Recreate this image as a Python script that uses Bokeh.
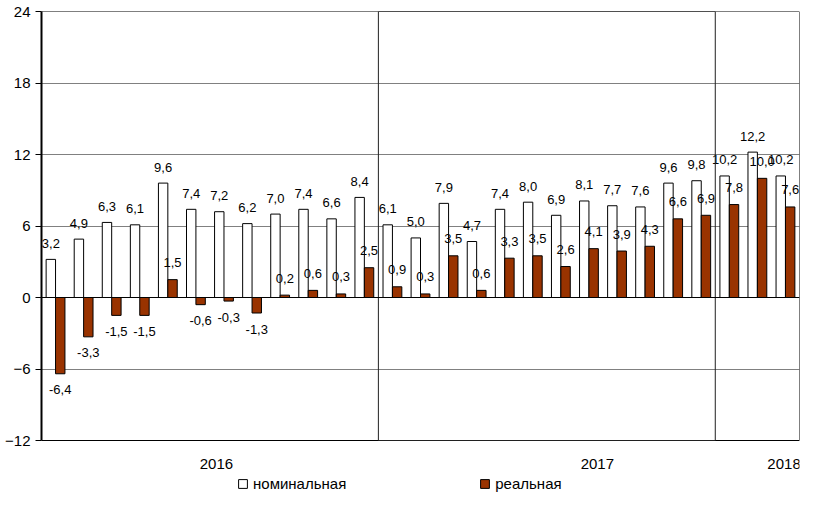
from bokeh.plotting import figure
from bokeh.models import (ColumnDataSource, FixedTicker, Legend, LegendItem,
                          CDSView, BooleanFilter, BoxAnnotation, Span)
from bokeh.transform import dodge
from bokeh.core.properties import value
from bokeh.embed import file_html
from bokeh.resources import INLINE

nominal = [3.2, 4.9, 6.3, 6.1, 9.6, 7.4, 7.2, 6.2, 7.0, 7.4, 6.6, 8.4,
           6.1, 5.0, 7.9, 4.7, 7.4, 8.0, 6.9, 8.1, 7.7, 7.6, 9.6, 9.8,
           10.2, 12.2, 10.2]
real = [-6.4, -3.3, -1.5, -1.5, 1.5, -0.6, -0.3, -1.3, 0.2, 0.6, 0.3, 2.5,
        0.9, 0.3, 3.5, 0.6, 3.3, 3.5, 2.6, 4.1, 3.9, 4.3, 6.6, 6.9,
        7.8, 10.0, 7.6]
years = ["2016", "2017", "2018"]
year_label_pos = [5.73, 19.3, 25.95]
year_breaks = [11.5, 23.5]
y_min, y_max = -12, 24
y_ticks = [-12, -6, 0, 6, 12, 18, 24]
grid_ticks = [-6, 6, 12, 18]

FONT = "Liberation Sans"
RED = "#993300"

def fmt(v):
    return f"{v:.1f}".replace(".", ",")

src = ColumnDataSource(dict(
    x=list(range(len(nominal))),
    nom=nominal,
    real=real,
    nom_lbl=[fmt(v) for v in nominal],
    real_lbl=[fmt(v) for v in real],
))

# frame extends below the value axis so that the year labels and legend can live inside it
p = figure(width=800, height=495, x_range=(-0.5, len(nominal) - 0.5),
           y_range=(y_min - 4.53, y_max),
           output_backend="svg", toolbar_location=None,
           min_border_left=41, min_border_right=1, min_border_top=11, min_border_bottom=1)

p.outline_line_color = None
p.background_fill_color = "white"
p.border_fill_color = "white"

p.xgrid.visible = False
p.ygrid.ticker = FixedTicker(ticks=grid_ticks)
p.ygrid.grid_line_color = "#808080"
p.ygrid.grid_line_width = 1

# chart area border (top, right, bottom) and year separators
p.add_layout(BoxAnnotation(bottom=y_min, top=y_max, fill_alpha=0,
                           line_color="black", line_alpha=1.0, line_width=1))
p.add_layout(BoxAnnotation(left=year_breaks[0], right=year_breaks[1], bottom=y_min, top=y_max,
                           fill_alpha=0, line_color="#202020", line_alpha=1.0, line_width=1))
p.add_layout(Span(location=0, dimension="width", line_color="black", line_width=1))

W = 0.335
r_nom = p.vbar(x=dodge("x", -W / 2), top="nom", bottom=0, width=W, source=src,
               fill_color="white", line_color="black", line_width=1)
r_real = p.vbar(x=dodge("x", W / 2), top="real", bottom=0, width=W, source=src,
                fill_color=RED, line_color="black", line_width=1)

p.text(x=dodge("x", -W / 2), y="nom", text="nom_lbl", source=src,
       text_align="center", text_baseline="middle", y_offset=-16,
       text_font=value(FONT), text_font_size="13px", text_color="black")
pos_view = CDSView(filter=BooleanFilter([v >= 0 for v in real]))
neg_view = CDSView(filter=BooleanFilter([v < 0 for v in real]))
p.text(x=dodge("x", W / 2), y="real", text="real_lbl", source=src, view=pos_view,
       text_align="center", text_baseline="middle", y_offset=-17,
       text_font=value(FONT), text_font_size="13px", text_color="black")
p.text(x=dodge("x", W / 2), y="real", text="real_lbl", source=src, view=neg_view,
       text_align="center", text_baseline="middle", y_offset=16,
       text_font=value(FONT), text_font_size="13px", text_color="black")

# year labels under the chart area
p.text(x=year_label_pos, y=[y_min] * len(years), text=years,
       text_align="center", text_baseline="middle", y_offset=23,
       text_font=value(FONT), text_font_size="15px", text_color="black")

# y axis
p.yaxis.ticker = FixedTicker(ticks=y_ticks)
p.yaxis.bounds = (y_min, y_max)
p.yaxis.axis_line_color = "black"
p.yaxis.axis_line_width = 2
p.yaxis.major_tick_line_color = "black"
p.yaxis.major_tick_out = 6
p.yaxis.major_tick_in = 0
p.yaxis.minor_tick_line_color = None
p.yaxis.major_label_standoff = 5
p.yaxis.major_label_text_font = FONT
p.yaxis.major_label_text_font_size = "15px"
p.yaxis.major_label_text_color = "black"

p.xaxis.visible = False

legend = Legend(items=[LegendItem(label="номинальная", renderers=[r_nom]),
                       LegendItem(label="реальная", renderers=[r_real])],
                orientation="horizontal", location=(196, 2),
                glyph_width=11, glyph_height=11, label_standoff=5, spacing=133,
                label_text_font=FONT, label_text_font_size="15px",
                label_text_color="black",
                label_height=16, padding=0, margin=0, border_line_color=None,
                background_fill_alpha=0)
p.add_layout(legend, "center")

open("out.html", "w").write(file_html(p, INLINE))
